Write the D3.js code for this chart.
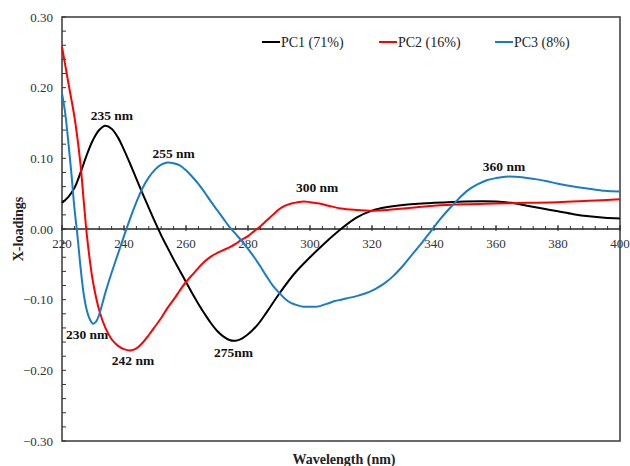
<!DOCTYPE html>
<html><head><meta charset="utf-8">
<script src="https://cdn.jsdelivr.net/npm/d3@7"></script>
<style>body{margin:0;background:#fff}svg{display:block}</style>
</head><body>
<svg id="c" width="630" height="466"></svg>
<script>
// Data (wavelength nm, X-loading)
const pc1Wave = [220,222,224,226,228,230,232,234,236,238,240,242,244,246,248,250,252,254,256,258,260,262,264,266,268,270,272,274,276,278,280,283,286,290,295,300,305,310,315,320,325,330,340,350,360,365,370,375,380,385,390,395,400];
const pc1Vals = [0.037,0.045,0.058,0.080,0.105,0.126,0.140,0.146,0.142,0.130,0.112,0.092,0.071,0.050,0.030,0.010,-0.009,-0.026,-0.043,-0.059,-0.075,-0.091,-0.106,-0.120,-0.133,-0.144,-0.152,-0.157,-0.158,-0.155,-0.149,-0.136,-0.118,-0.092,-0.063,-0.040,-0.019,0.000,0.016,0.026,0.031,0.034,0.037,0.039,0.039,0.037,0.033,0.029,0.025,0.021,0.018,0.016,0.015];

const pc2Wave = [220,221,222,223,224,225,226,227,228,229,230,232,234,236,238,240,242,244,246,248,250,252,254,256,258,260,262,264,266,268,270,272,274,276,278,280,282,284,286,288,290,292,294,296,298,300,303,306,310,315,320,325,330,340,350,360,370,380,390,400];
const pc2Vals = [0.258,0.233,0.208,0.184,0.159,0.128,0.090,0.040,-0.008,-0.045,-0.075,-0.115,-0.140,-0.156,-0.165,-0.170,-0.172,-0.169,-0.161,-0.150,-0.138,-0.126,-0.112,-0.100,-0.087,-0.075,-0.065,-0.055,-0.046,-0.039,-0.034,-0.030,-0.026,-0.021,-0.015,-0.010,-0.003,0.004,0.012,0.020,0.028,0.033,0.036,0.038,0.039,0.038,0.036,0.033,0.029,0.027,0.026,0.027,0.029,0.033,0.035,0.036,0.037,0.038,0.040,0.042];

const pc3Wave = [220,221,222,223,224,225,226,227,228,229,230,231,232,234,236,238,240,242,244,246,248,250,252,254,256,258,260,262,264,266,268,270,272,274,276,278,280,282,284,286,288,290,292,294,296,298,300,302,304,306,308,310,312,315,318,321,324,327,330,333,336,339,342,345,348,351,354,357,360,363,366,369,372,376,380,385,390,395,400];
const pc3Vals = [0.192,0.165,0.125,0.080,0.030,-0.010,-0.055,-0.092,-0.115,-0.128,-0.134,-0.131,-0.121,-0.090,-0.062,-0.036,-0.010,0.015,0.038,0.058,0.073,0.084,0.091,0.094,0.093,0.090,0.083,0.074,0.064,0.052,0.039,0.027,0.015,0.003,-0.007,-0.017,-0.028,-0.040,-0.053,-0.067,-0.080,-0.090,-0.099,-0.105,-0.108,-0.110,-0.110,-0.110,-0.108,-0.105,-0.102,-0.100,-0.098,-0.095,-0.091,-0.085,-0.077,-0.066,-0.052,-0.036,-0.020,-0.003,0.014,0.029,0.043,0.055,0.063,0.069,0.072,0.074,0.074,0.073,0.071,0.068,0.064,0.060,0.057,0.054,0.053];

const seriesNames = ["PC1 (71%)","PC2 (16%)","PC3 (8%)"];
const seriesColors = ["#000000","#ff0000","#1b7cc6"];
const xTicks = [220,240,260,280,300,320,340,360,380,400];
const yTicks = [0.30,0.20,0.10,0.00,-0.10,-0.20,-0.30];

const peakLabels = ["235 nm","255 nm","300 nm","360 nm","230 nm","242 nm","275nm"];
const peakWave = [236.1,256,302.3,362.6,228.1,242.9,275.3];
const peakVal = [0.154,0.1,0.052,0.082,-0.156,-0.192,-0.181];

const svg = d3.select("#c");
const L = 62, R = 620, T = 17, B = 441;
const x = d3.scaleLinear().domain([220,400]).range([L,R]);
const y = d3.scaleLinear().domain([-0.30,0.30]).range([B,T]);

// frame
svg.append("rect").attr("x",L).attr("y",T).attr("width",R-L).attr("height",B-T)
  .attr("fill","none").attr("stroke","#444").attr("stroke-width",1.6);

// y axis ticks (inside)
const yMinor = d3.range(-0.30,0.3001,0.02);
svg.append("g").selectAll("line").data(yMinor).join("line")
  .attr("x1",L).attr("x2",L+4).attr("y1",d=>y(d)).attr("y2",d=>y(d))
  .attr("stroke","#333").attr("stroke-width",1);
svg.append("g").selectAll("text").data(yTicks).join("text")
  .attr("x",L-9).attr("y",d=>y(d)+4.5).attr("text-anchor","end")
  .attr("font-family","Liberation Serif").attr("font-size",13).attr("fill","#333")
  .text(d=>d3.format(".2f")(d));

// x axis at zero
const y0 = y(0);
svg.append("line").attr("x1",L).attr("x2",R).attr("y1",y0).attr("y2",y0)
  .attr("stroke","#222").attr("stroke-width",1.3);
const xMinor = d3.range(220,400.01,4);
svg.append("g").selectAll("line").data(xMinor).join("line")
  .attr("x1",d=>x(d)).attr("x2",d=>x(d)).attr("y1",y0-3).attr("y2",y0+1)
  .attr("stroke","#333").attr("stroke-width",1);
svg.append("g").selectAll("line").data(xTicks).join("line")
  .attr("x1",d=>x(d)).attr("x2",d=>x(d)).attr("y1",y0-4).attr("y2",y0+2)
  .attr("stroke","#333").attr("stroke-width",1);
svg.append("g").selectAll("text").data(xTicks).join("text")
  .attr("x",d=>x(d)).attr("y",y0+19).attr("text-anchor","middle")
  .attr("font-family","Liberation Serif").attr("font-size",13).attr("fill","#333")
  .text(d=>d);

// lines
const waves = [pc1Wave,pc2Wave,pc3Wave];
const vals = [pc1Vals,pc2Vals,pc3Vals];
const line = d3.line().x(d=>x(d[0])).y(d=>y(d[1])).curve(d3.curveCatmullRom.alpha(0.5));
[0,1,2].forEach(i=>{
  const pts = waves[i].map((w,k)=>[w,vals[i][k]]);
  svg.append("path").datum(pts).attr("d",line).attr("fill","none")
    .attr("stroke",seriesColors[i]).attr("stroke-width",2);
});

// peak labels
svg.append("g").selectAll("text").data(peakLabels).join("text")
  .attr("x",(d,i)=>x(peakWave[i])).attr("y",(d,i)=>y(peakVal[i]))
  .attr("text-anchor","middle").attr("font-family","Liberation Serif")
  .attr("font-weight","bold").attr("font-size",13.5).attr("fill","#111")
  .text(d=>d);

// legend
const legX = [262,379,495];
seriesNames.forEach((n,i)=>{
  svg.append("line").attr("x1",legX[i]).attr("x2",legX[i]+18).attr("y1",42).attr("y2",42)
    .attr("stroke",seriesColors[i]).attr("stroke-width",2);
  svg.append("text").attr("x",legX[i]+19).attr("y",46.5)
    .attr("font-family","Liberation Serif").attr("font-size",14).attr("fill","#222").text(n);
});

// axis titles
svg.append("text").attr("x",344).attr("y",464).attr("text-anchor","middle")
  .attr("font-family","Liberation Serif").attr("font-weight","bold").attr("font-size",14)
  .attr("fill","#222").text("Wavelength (nm)");
svg.append("text").attr("transform","translate(23,229) rotate(-90)").attr("text-anchor","middle")
  .attr("font-family","Liberation Serif").attr("font-weight","bold").attr("font-size",14)
  .attr("fill","#222").text("X-loadings");
</script>
</body></html>
